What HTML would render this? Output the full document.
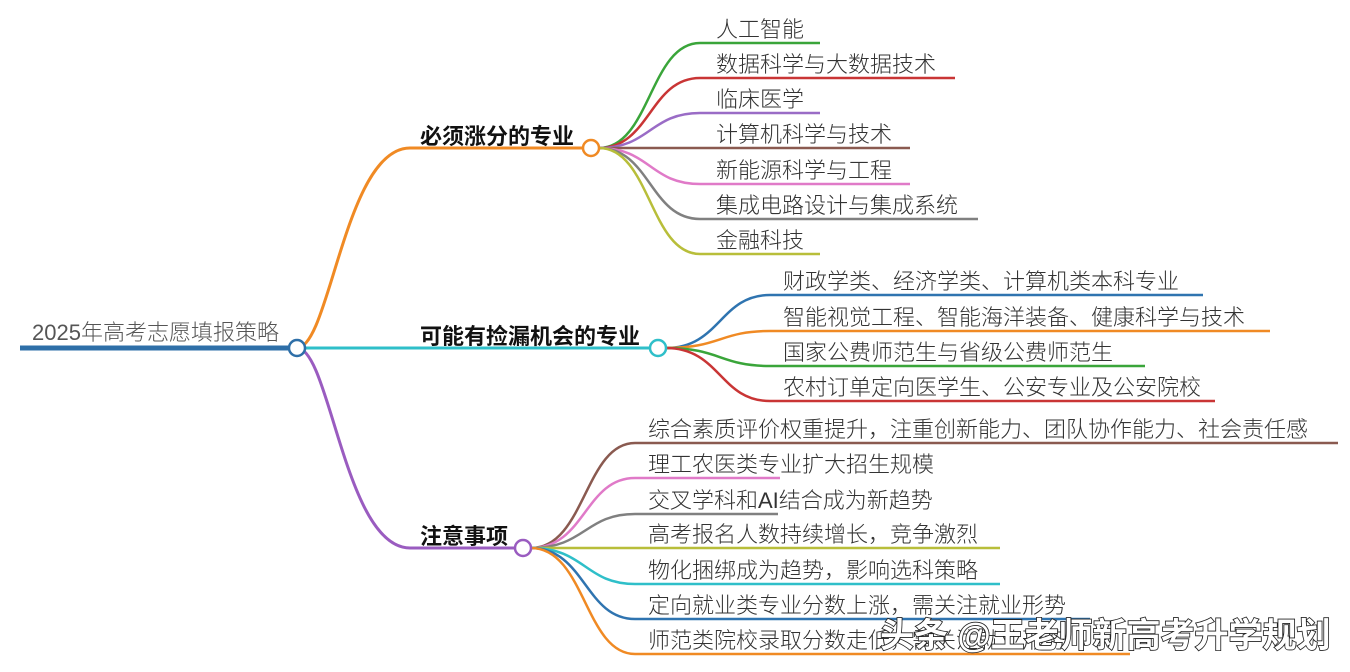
<!DOCTYPE html>
<html><head><meta charset="utf-8"><style>
html,body{margin:0;padding:0;background:#fff;}
svg{display:block}
text{font-family:"Liberation Sans","Noto Sans CJK SC",sans-serif;}
.t{font-size:22px;fill:#333;font-weight:300}
.b{font-size:22px;fill:#111;font-weight:bold}
</style></head><body>
<svg width="1350" height="672" viewBox="0 0 1350 672" xmlns="http://www.w3.org/2000/svg">
<g fill="none" stroke-width="2.5">
<line x1="20" y1="348" x2="290" y2="348" stroke="#2e6fa8" stroke-width="5"/>
<text x="32" y="340" class="t" style="fill:#555" stroke="none">2025年高考志愿填报策略</text>
<path d="M297 348 C330 348 345 148 410 148 L583 148" stroke="#f08a24" stroke-width="3"/>
<path d="M305 348 L650 348" stroke="#2fbfc9" stroke-width="3"/>
<path d="M297 348 C330 348 345 548 410 548 L515 548" stroke="#9a5cc0" stroke-width="3"/>

<path d="M599 148 C650 148 650 43 700 43 L820 43" stroke="#3aa53a"/>
<path d="M599 148 C650 148 650 78 700 78 L955 78" stroke="#c93535"/>
<path d="M599 148 C650 148 650 113 700 113 L820 113" stroke="#9a6cc6"/>
<path d="M599 148 L910 148" stroke="#8a5a50"/>
<path d="M599 148 C650 148 650 184 700 184 L910 184" stroke="#e07ac8"/>
<path d="M599 148 C650 148 650 219 700 219 L978 219" stroke="#808080"/>
<path d="M599 148 C650 148 650 254 700 254 L820 254" stroke="#b8be3a"/>

<path d="M666 348 C720 348 720 295 770 295 L1203 295" stroke="#2f74b0"/>
<path d="M666 348 C720 348 720 331 770 331 L1270 331" stroke="#f08a24"/>
<path d="M666 348 C720 348 720 366 770 366 L1145 366" stroke="#3aa53a"/>
<path d="M666 348 C720 348 720 401 770 401 L1215 401" stroke="#c93535"/>

<path d="M531 548 C585 548 585 443 635 443 L1338 443" stroke="#8a5a50"/>
<path d="M531 548 C585 548 585 478 635 478 L780 478" stroke="#e07ac8"/>
<path d="M531 548 C585 548 585 514 635 514 L778 514" stroke="#808080"/>
<path d="M531 548 L1000 548" stroke="#b8be3a"/>
<path d="M531 548 C585 548 585 584 635 584 L1000 584" stroke="#2fbfc9"/>
<path d="M531 548 C585 548 585 619 635 619 L1090 619" stroke="#2f74b0"/>
<path d="M531 548 C585 548 585 654 635 654 L1130 654" stroke="#f08a24"/>

<circle cx="297" cy="348" r="8" fill="#fff" stroke="#2e6fa8" stroke-width="2.5"/>
<circle cx="591" cy="148" r="8" fill="#fff" stroke="#f08a24" stroke-width="2.5"/>
<circle cx="658" cy="348" r="8" fill="#fff" stroke="#2fbfc9" stroke-width="2.5"/>
<circle cx="523" cy="548" r="8" fill="#fff" stroke="#9a5cc0" stroke-width="2.5"/>
</g>

<text x="420" y="144" class="b">必须涨分的专业</text>
<text x="420" y="344" class="b">可能有捡漏机会的专业</text>
<text x="420" y="544" class="b">注意事项</text>

<g class="t">
<text x="716" y="37" class="t">人工智能</text>
<text x="716" y="72" class="t">数据科学与大数据技术</text>
<text x="716" y="107" class="t">临床医学</text>
<text x="716" y="142" class="t">计算机科学与技术</text>
<text x="716" y="178" class="t">新能源科学与工程</text>
<text x="716" y="213" class="t">集成电路设计与集成系统</text>
<text x="716" y="248" class="t">金融科技</text>

<text x="783" y="289" class="t">财政学类、经济学类、计算机类本科专业</text>
<text x="783" y="325" class="t">智能视觉工程、智能海洋装备、健康科学与技术</text>
<text x="783" y="360" class="t">国家公费师范生与省级公费师范生</text>
<text x="783" y="395" class="t">农村订单定向医学生、公安专业及公安院校</text>

<text x="648" y="437" class="t">综合素质评价权重提升，注重创新能力、团队协作能力、社会责任感</text>
<text x="648" y="472" class="t">理工农医类专业扩大招生规模</text>
<text x="648" y="508" class="t">交叉学科和AI结合成为新趋势</text>
<text x="648" y="542" class="t">高考报名人数持续增长，竞争激烈</text>
<text x="648" y="578" class="t">物化捆绑成为趋势，影响选科策略</text>
<text x="648" y="613" class="t">定向就业类专业分数上涨，需关注就业形势</text>
<text x="648" y="648" class="t">师范类院校录取分数走低，需关注就业形势</text>
</g>

<text x="880" y="647" style="font-size:34px;fill:#fff;stroke:#222;stroke-width:1.7;paint-order:stroke;font-weight:bold">头条 @王老师新高考升学规划</text>
</svg>
</body></html>
